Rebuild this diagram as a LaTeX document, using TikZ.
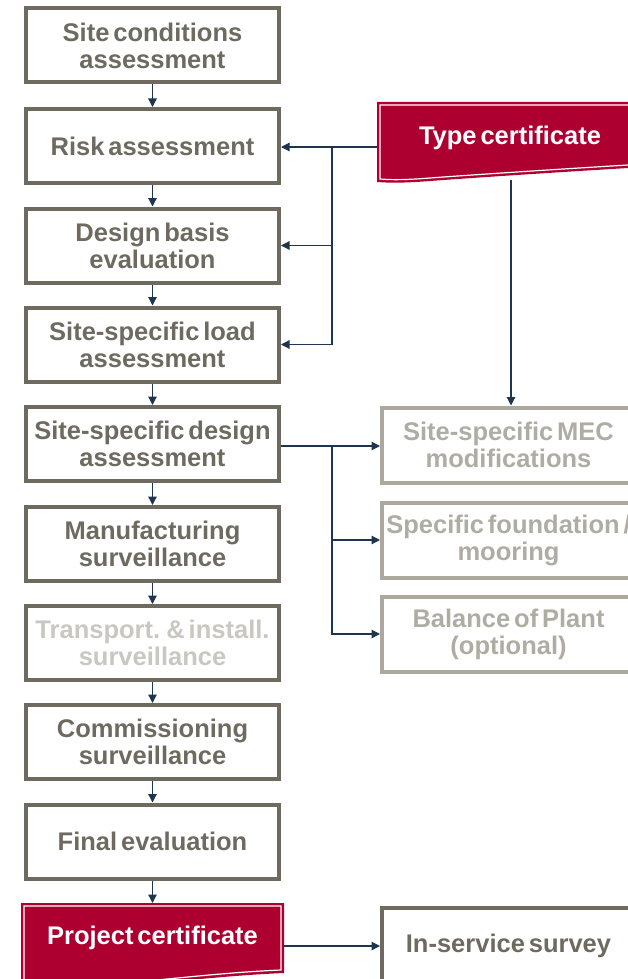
\documentclass[tikz,border=0pt]{standalone}
\usepackage{fontspec}
\setmainfont{Liberation Sans}[WordSpace=0.55]
\usetikzlibrary{arrows.meta}
\definecolor{boxgray}{RGB}{110,106,96}
\definecolor{lightbox}{RGB}{172,168,158}
\definecolor{lighttext}{RGB}{175,172,164}
\definecolor{fadetext}{RGB}{201,199,193}
\definecolor{certred}{RGB}{174,0,48}
\definecolor{navy}{RGB}{30,52,80}
\begin{document}
\begin{tikzpicture}[x=1pt,y=-1pt,
  lbl/.style={font=\fontsize{25.5}{27}\selectfont\bfseries, align=center, inner sep=0pt},
  stepbox/.style={lbl, draw=boxgray, line width=4pt, minimum width=253pt, minimum height=74pt, text=boxgray},
  fadebox/.style={stepbox, text=fadetext},
  sidebox/.style={lbl, draw=lightbox, line width=4pt, minimum width=253pt, minimum height=75pt, text=lighttext},
  certtext/.style={lbl, text=white},
  arr/.style={draw=navy, line width=1.2pt, -{Triangle[length=8.5pt,width=8.5pt]}},
  conn/.style={draw=navy, line width=1.2pt}
]
\useasboundingbox (0,0) rectangle (628,979);
\clip (0,0) rectangle (628,979);

% left column
\node[stepbox] (sca) at (152.5,45.5) {Site conditions\\assessment};
\node[stepbox] (risk) at (152.5,146) {Risk assessment};
\node[stepbox] (dbe) at (152.5,245.5) {Design basis\\evaluation};
\node[stepbox] (load) at (152.5,344.5) {Site-specific load\\assessment};
\node[stepbox] (ssd) at (152.5,444) {Site-specific design\\assessment};
\node[stepbox] (man) at (152.5,544) {Manufacturing\\surveillance};
\node[fadebox] (tra) at (152.5,643) {Transport. \& install.\\surveillance};
\node[stepbox] (com) at (152.5,742) {Commissioning\\surveillance};
\node[stepbox] (fin) at (152.5,841.5) {Final evaluation};

% project certificate
\fill[certred] (21,903) -- (284,903) -- (284,973)
  .. controls (190,977) and (110,992) .. (21,990) -- cycle;
\draw[white, line width=1.2pt] (24,906) -- (281,906) -- (281,970)
  .. controls (188,974) and (108,989) .. (24,987) -- cycle;
\node[certtext] (pc) at (152.5,938) {Project certificate};
\coordinate (pcT) at (152.5,903);
\coordinate (pcR) at (284,946);

% type certificate
\fill[certred] (377,102) -- (645,102) -- (645,167)
  .. controls (560,172) and (470,178) .. (430,181)
  .. controls (405,183) and (390,183) .. (377,182) -- cycle;
\draw[white, line width=1.2pt] (380,105) -- (645,105) -- (645,164)
  .. controls (560,169) and (470,175) .. (430,178)
  .. controls (405,180) and (392,180) .. (380,179) -- cycle;
\node[certtext] (tc) at (510,138) {Type certificate};
\coordinate (tcL) at (377,147);
\coordinate (tcB) at (511,180);

% right column
\node[sidebox] (mec) at (508.5,445) {Site-specific MEC\\modifications};
\node[sidebox] (fnd) at (508.5,540) {Specific foundation /\\mooring};
\node[sidebox] (bop) at (508.5,634) {Balance of Plant\\(optional)};
\node[stepbox, minimum height=76pt] (isv) at (508.5,946) {In-service survey};

% vertical chain
\draw[arr] (sca) -- (risk);
\draw[arr] (risk) -- (dbe);
\draw[arr] (dbe) -- (load);
\draw[arr] (load) -- (ssd);
\draw[arr] (ssd) -- (man);
\draw[arr] (man) -- (tra);
\draw[arr] (tra) -- (com);
\draw[arr] (com) -- (fin);
\draw[arr] (fin) -- (pcT);

% type certificate connectors
\coordinate (j1) at (332,147);
\draw[conn] (tcL) -- (j1);
\draw[arr] (j1) -- (j1 -| risk.east);
\draw[arr] (j1) |- (dbe.east);
\draw[arr] (j1) |- (load.east);
\draw[arr] (tcB) -- (tcB |- mec.north);

% site-specific design connectors
\coordinate (j2) at (332,446);
\draw[conn] (ssd.east |- j2) -- (j2);
\draw[arr] (j2) -- (j2 -| mec.west);
\draw[arr] (j2) |- (fnd.west);
\draw[arr] (j2) |- (bop.west);

% project certificate to in-service
\draw[arr] (pcR) -- (pcR -| isv.west);
\end{tikzpicture}
\end{document}
